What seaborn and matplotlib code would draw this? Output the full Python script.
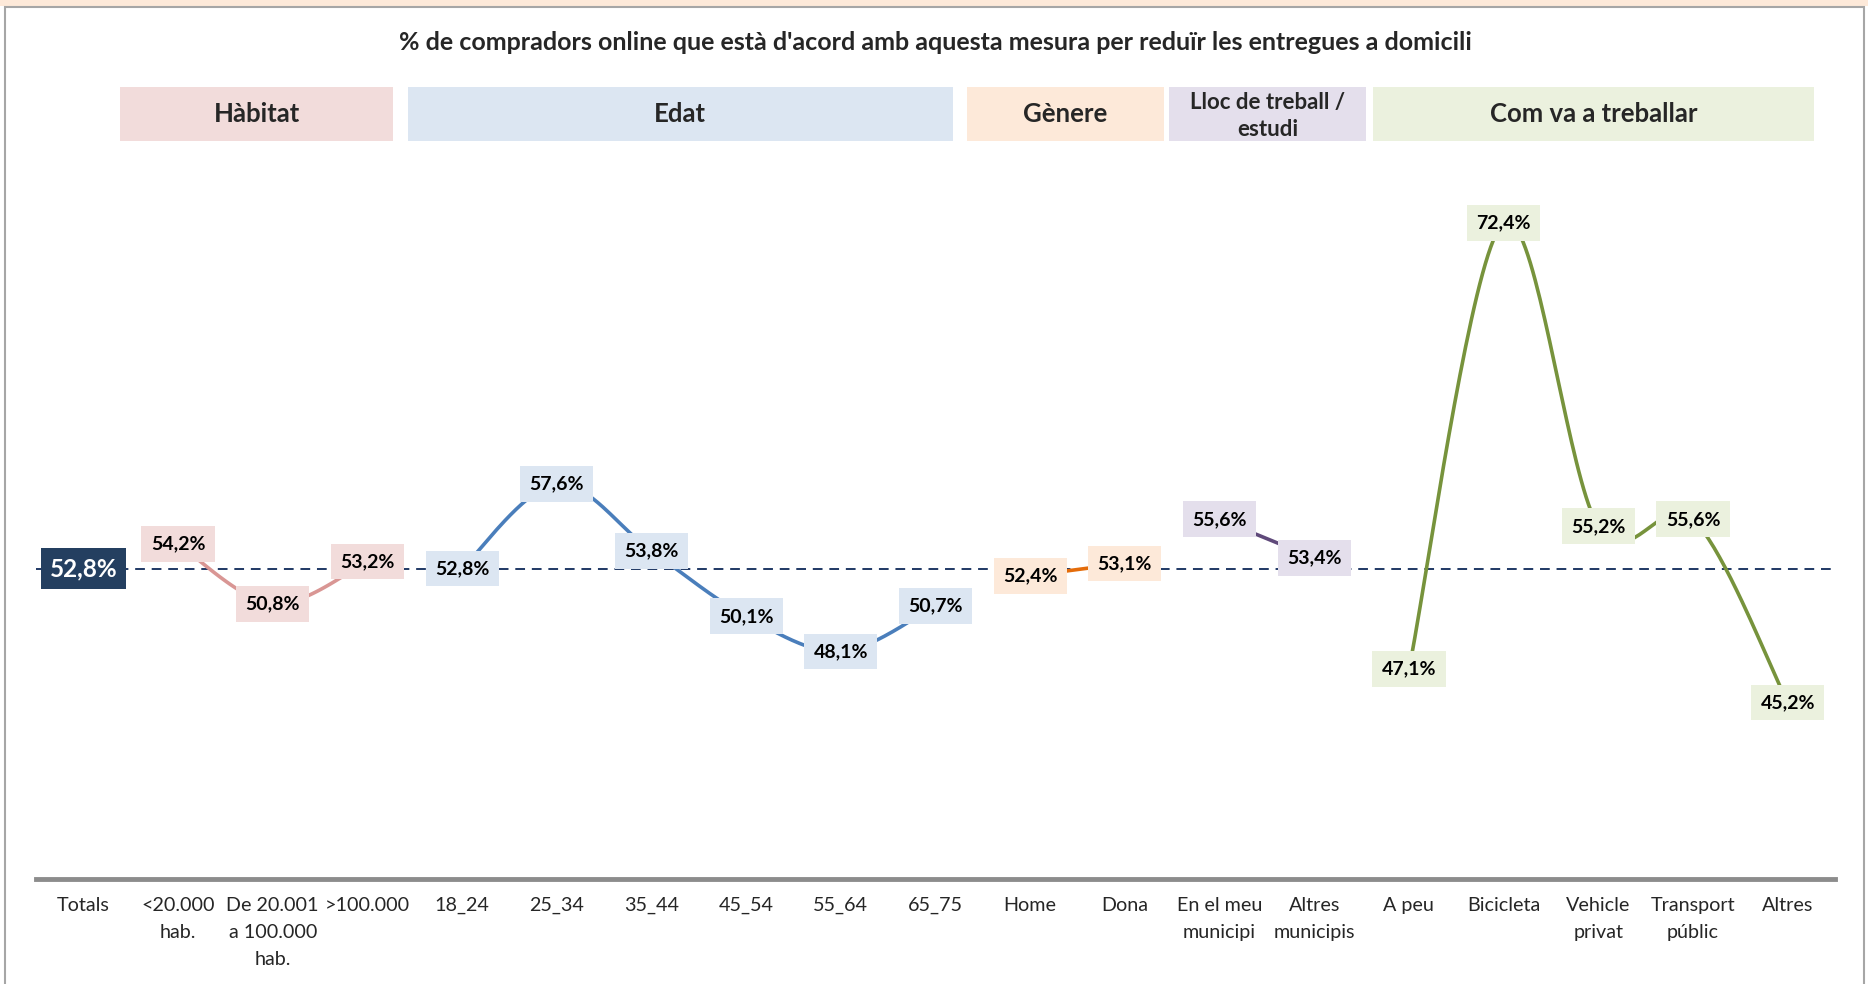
import numpy as np
import pandas as pd
import matplotlib
matplotlib.use('Agg')
import matplotlib.pyplot as plt
import matplotlib.transforms as mtransforms
from matplotlib.patches import Rectangle
import seaborn as sns

# Dades del gràfic
categories = ['Totals', '<20.000\nhab.', 'De 20.001\na 100.000\nhab.', '>100.000',
              '18_24', '25_34', '35_44', '45_54', '55_64', '65_75',
              'Home', 'Dona', 'En el meu\nmunicipi', 'Altres\nmunicipis',
              'A peu', 'Bicicleta', 'Vehicle\nprivat', 'Transport\npúblic', 'Altres']
values = [52.8, 54.2, 50.8, 53.2, 52.8, 57.6, 53.8, 50.1, 48.1, 50.7,
          52.4, 53.1, 55.6, 53.4, 47.1, 72.4, 55.2, 55.6, 45.2]
total_value = 52.8

group_names = ['Hàbitat', 'Edat', 'Gènere', 'Lloc de treball /\nestudi', 'Com va a treballar']
group_ranges = [(1, 3), (4, 9), (10, 11), (12, 13), (14, 18)]
group_line_colors = ['#D99694', '#4A7EBB', '#E46C0A', '#5F497A', '#77933C']
group_box_colors = ['#F2DCDB', '#DCE6F2', '#FDE9D9', '#E4DFEC', '#EBF1DE']

title = "% de compradors online que està d'acord amb aquesta mesura per reduïr les entregues a domicili"

sns.set_style('white')
plt.rcParams['font.family'] = ['Lato', 'DejaVu Sans']


def smooth_curve(xs, ys, n=40):
    # suavitzat tipus Excel (Bezier amb punts de control Catmull-Rom)
    xs = np.asarray(xs, float)
    ys = np.asarray(ys, float)
    pts = np.column_stack([xs, ys])
    out = []
    for i in range(len(pts) - 1):
        p0 = pts[i - 1] if i > 0 else pts[i]
        p1 = pts[i]
        p2 = pts[i + 1]
        p3 = pts[i + 2] if i + 2 < len(pts) else pts[i + 1]
        c1 = p1 + (p2 - p0) / 6
        c2 = p2 - (p3 - p1) / 6
        t = np.linspace(0, 1, n)[:, None]
        seg = ((1 - t) ** 3) * p1 + 3 * ((1 - t) ** 2) * t * c1 + 3 * (1 - t) * t ** 2 * c2 + t ** 3 * p2
        out.append(seg if i == 0 else seg[1:])
    out = np.vstack(out)
    return out[:, 0], out[:, 1]


W, H = 1868, 984
fig = plt.figure(figsize=(W / 100, H / 100), dpi=100)

# marc exterior
fig.patches.append(Rectangle((0, 1 - 6 / H), 1, 6 / H, transform=fig.transFigure,
                             facecolor='#FDE9D9', edgecolor='none', zorder=0))
fig.patches.append(Rectangle((5 / W, -0.05), 1859 / W, 1.05 - 7 / H, transform=fig.transFigure,
                             facecolor='none', edgecolor='#A6A6A6', linewidth=1.5, zorder=1))

ax = fig.add_axes([36 / W, 105 / H, 1799 / W, 790 / H])
ax.set_xlim(-0.5, 18.5)
ax.set_ylim(35.2, 80)

# línia de referència (total)
ax.axhline(total_value, color='#1F3864', lw=1.4, ls=(0, (5, 3.5)), zorder=1)

# línies per grup
for (a, b), lc in zip(group_ranges, group_line_colors):
    gx = list(range(a, b + 1))
    gy = values[a:b + 1]
    sx, sy = smooth_curve(gx, gy)
    df = pd.DataFrame({'x': sx, 'y': sy})
    sns.lineplot(data=df, x='x', y='y', sort=False, estimator=None, color=lc, lw=2.6, ax=ax, zorder=2)

# etiquetes de valor
ax.text(0, values[0], f'{values[0]:.1f}%'.replace('.', ','), ha='center', va='center',
        fontsize=17.5, fontweight='bold', color='white', zorder=5,
        bbox=dict(boxstyle='square,pad=0.36', facecolor='#243F60', edgecolor='none'))
for (a, b), bc in zip(group_ranges, group_box_colors):
    for i in range(a, b + 1):
        ax.text(i, values[i], f'{values[i]:.1f}%'.replace('.', ','), ha='center', va='center',
                fontsize=14, fontweight='bold', color='black', zorder=5,
                bbox=dict(boxstyle='square,pad=0.48', facecolor=bc, edgecolor='none'))

# eixos
for s in ['top', 'left', 'right']:
    ax.spines[s].set_visible(False)
ax.spines['bottom'].set_color('#8C8C8C')
ax.spines['bottom'].set_linewidth(3.5)
ax.set_yticks([])
ax.set_xticks(range(len(categories)))
ax.set_xticklabels(categories, fontsize=14.2, linespacing=1.72, va='top')
ax.tick_params(axis='x', length=0, pad=13)
ax.set_xlabel('')
ax.set_ylabel('')

# títol
fig.text(935 / W, 1 - 43 / H, title, ha='center', va='center', fontsize=18, fontweight='bold')

# capçaleres dels grups
header_x = [(0.39, 3.27), (3.43, 9.18), (9.33, 11.41), (11.47, 13.55), (13.62, 18.28)]
trans = mtransforms.blended_transform_factory(ax.transData, fig.transFigure)
y0, y1 = 1 - 141 / H, 1 - 87 / H
for name, (xa, xb), bc in zip(group_names, header_x, group_box_colors):
    ax.add_patch(Rectangle((xa, y0), xb - xa, y1 - y0, transform=trans, facecolor=bc,
                           edgecolor='none', clip_on=False, zorder=3))
    fs = 16 if '\n' in name else 18.5
    ty = (y0 + y1) / 2 - (2 / H if '\n' in name else 0)
    ax.text((xa + xb) / 2, ty, name, transform=trans, ha='center', va='center',
            fontsize=fs, fontweight='bold', linespacing=1.3, clip_on=False, zorder=4)

plt.savefig('out.png', dpi=100)
